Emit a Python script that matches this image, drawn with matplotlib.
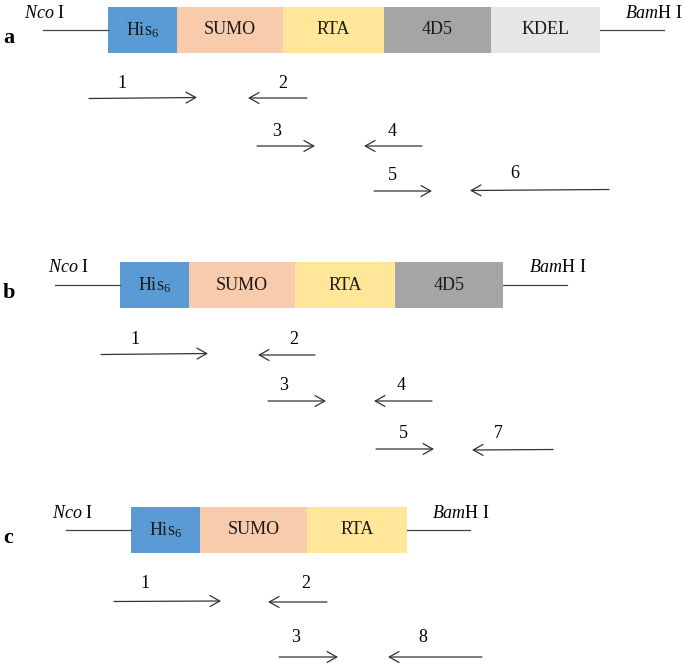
import matplotlib.pyplot as plt
from matplotlib.patches import Rectangle

plt.rcParams["font.family"] = ["Liberation Serif", "DejaVu Serif"]
plt.rcParams["mathtext.fontset"] = "custom"
plt.rcParams["mathtext.rm"] = "Liberation Serif"
plt.rcParams["mathtext.it"] = "Liberation Serif:italic"

# 构建体组成（各片段宽度，单位为示意长度）
panel_names = ["a", "b", "c"]
segment_names = [
    [r"His$_{6}$", "SUMO", "RTA", "4D5", "KDEL"],
    [r"His$_{6}$", "SUMO", "RTA", "4D5"],
    [r"His$_{6}$", "SUMO", "RTA"],
]
segment_widths = [
    [69, 106, 101, 107, 109],
    [69, 106, 100, 108],
    [69, 107, 100],
]
segment_colors = {
    "His": "#5B9BD5", "SUMO": "#F8CBAD", "RTA": "#FFE699",
    "4D5": "#A5A5A5", "KDEL": "#E7E6E6",
}
box_left = [108, 120, 131]
box_top = [7, 262, 507]
flank_left = [43, 55, 66]
flank_right = [664, 567, 470]
nco_x = [24, 48, 52]
bam_x = [625, 529, 432]

# 引物箭头: (起点x, 终点x, 起点y, 终点y, 编号)
primers = [
    [(89, 197, 98.5, 97.5, "1"), (307, 248, 98, 98, "2"),
     (257, 315, 146, 146, "3"), (422, 364, 146, 146, "4"),
     (374, 432, 191, 191, "5"), (609, 470, 189.5, 190.5, "6")],
    [(101, 208, 354.5, 353.5, "1"), (315, 258, 355, 355, "2"),
     (268, 326, 401, 401, "3"), (432, 374, 401, 401, "4"),
     (376, 434, 449, 449, "5"), (553, 472, 449.5, 450, "7")],
    [(114, 221, 601.5, 601, "1"), (327, 268, 602, 602, "2"),
     (279, 338, 657, 657, "3"), (482, 388, 657, 657, "8")],
]
label_pos = [
    [(122, 83), (283, 83), (277, 131), (392, 131), (392, 176), (515, 174)],
    [(135, 339), (294, 340), (284, 386), (401, 386), (403, 434), (498, 434)],
    [(145, 584), (306, 584), (296, 638), (423, 638)],
]

box_h = 46
fs = 13
fig = plt.figure(figsize=(6.85, 6.65), dpi=100)
ax = fig.add_axes([0, 0, 1, 1])
ax.set_xlim(0, 685)
ax.set_ylim(665, 0)
ax.axis("off")

for i, p in enumerate(panel_names):
    top = box_top[i]
    mid = top + box_h / 2
    # 面板字母
    ax.text(3, mid + 8, p, fontsize=16, fontweight="bold", ha="left", va="center")
    # 片段方块
    x = box_left[i]
    for name, w in zip(segment_names[i], segment_widths[i]):
        key = "His" if name.startswith("His") else name
        ax.add_patch(Rectangle((x, top), w, box_h, facecolor=segment_colors[key],
                               edgecolor="none"))
        ax.text(x + w / 2, mid, name, fontsize=fs, ha="center", va="center",
                color="#1a1a1a")
        x += w
    # 两侧连接线
    ax.plot([flank_left[i], box_left[i]], [mid, mid], color="#444444", lw=0.9)
    ax.plot([x, flank_right[i]], [mid, mid], color="#444444", lw=0.9)
    # 酶切位点
    ax.text(nco_x[i], top + 6, r"$\mathit{Nco}$ I", fontsize=fs, ha="left", va="center")
    ax.text(bam_x[i], top + 6, r"$\mathit{Bam}$H I", fontsize=fs, ha="left", va="center")
    # 引物
    for (x0, x1, y0, y1, lab), (lx, ly) in zip(primers[i], label_pos[i]):
        ax.annotate("", xy=(x1, y1), xytext=(x0, y0),
                    arrowprops=dict(arrowstyle="->,head_length=0.5,head_width=0.28",
                                    color="#333333", lw=0.9,
                                    mutation_scale=14, shrinkA=0, shrinkB=0))
        ax.text(lx, ly, lab, fontsize=fs, ha="center", va="center")

fig.savefig("out.png", dpi=100)
